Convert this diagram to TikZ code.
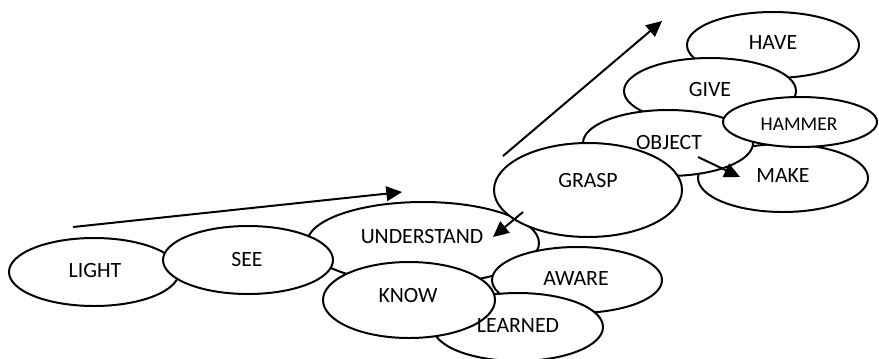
\documentclass[tikz,border=0pt]{standalone}
\usepackage{fontspec}
\setmainfont{Carlito}
\usetikzlibrary{shapes.geometric}
\usetikzlibrary{arrows.meta}

\begin{document}
\begin{tikzpicture}[x=0.03cm,y=-0.03cm,
    bubble/.style 2 args={ellipse,draw,fill=white,line width=1.7pt,inner sep=0pt,minimum width=#1*0.06cm,minimum height=#2*0.06cm},
    word/.style={inner sep=0pt,font=\fontsize{18.6}{21}\selectfont},
    arr/.style={line width=1.7pt,-{Triangle[length=0.47cm,width=0.44cm]}}]
    \useasboundingbox (0,0) rectangle (879,358);
    % ellipses, back to front
    \node[bubble={116}{41}] (understand) at (423,243) {};
    \node[bubble={85}{34}] (light) at (94,272) {};
    \node[bubble={85}{34}] (see) at (248,260) {};
    \node[bubble={85}{33}] (aware) at (577,280) {};
    \node[bubble={85}{34}] (learned) at (518,327) {};
    \node[bubble={86}{38}] (know) at (409,300) {};
    \node[bubble={86}{33}] (have) at (773,45) {};
    \node[bubble={86}{33}] (give) at (710,91) {};
    \node[bubble={85}{34}] (make) at (783,178) {};
    \node[bubble={85}{33}] (object) at (668,143) {};
    \node[bubble={94}{47}] (grasp) at (588,190) {};
    \node[bubble={77}{25}] (hammer) at (800,122) {};
    % words
    \node[word] (understand-t) at (422,237) {UNDERSTAND};
    \node[word] (light-t) at (95,270) {LIGHT};
    \node[word] (see-t) at (247,259) {SEE};
    \node[word] (aware-t) at (576,279) {AWARE};
    \node[word] (learned-t) at (518,326) {LEARNED};
    \node[word] (know-t) at (408,295) {KNOW};
    \node[word] (have-t) at (773,43) {HAVE};
    \node[word] (give-t) at (710,90) {GIVE};
    \node[word] (make-t) at (783,176) {MAKE};
    \node[word] (object-t) at (669,142) {OBJECT};
    \node[word] (grasp-t) at (588,180) {GRASP};
    \node[word,font=\fontsize{16.6}{19}\selectfont] (hammer-t) at (799,124) {HAMMER};
    % arrows
    \coordinate (lowstart) at (73,227);
    \coordinate (lowend) at (402,192);
    \coordinate (upstart) at (503,156);
    \coordinate (upend) at (662,21);
    \coordinate (graspout) at (523,212);
    \coordinate (understandin) at (493,237);
    \coordinate (objectout) at (698,157);
    \coordinate (makein) at (740,177);
    \draw[arr] (lowstart) -- (lowend);
    \draw[arr] (upstart) -- (upend);
    \draw[arr] (graspout) -- (understandin);
    \draw[arr] (objectout) -- (makein);
\end{tikzpicture}
\end{document}
